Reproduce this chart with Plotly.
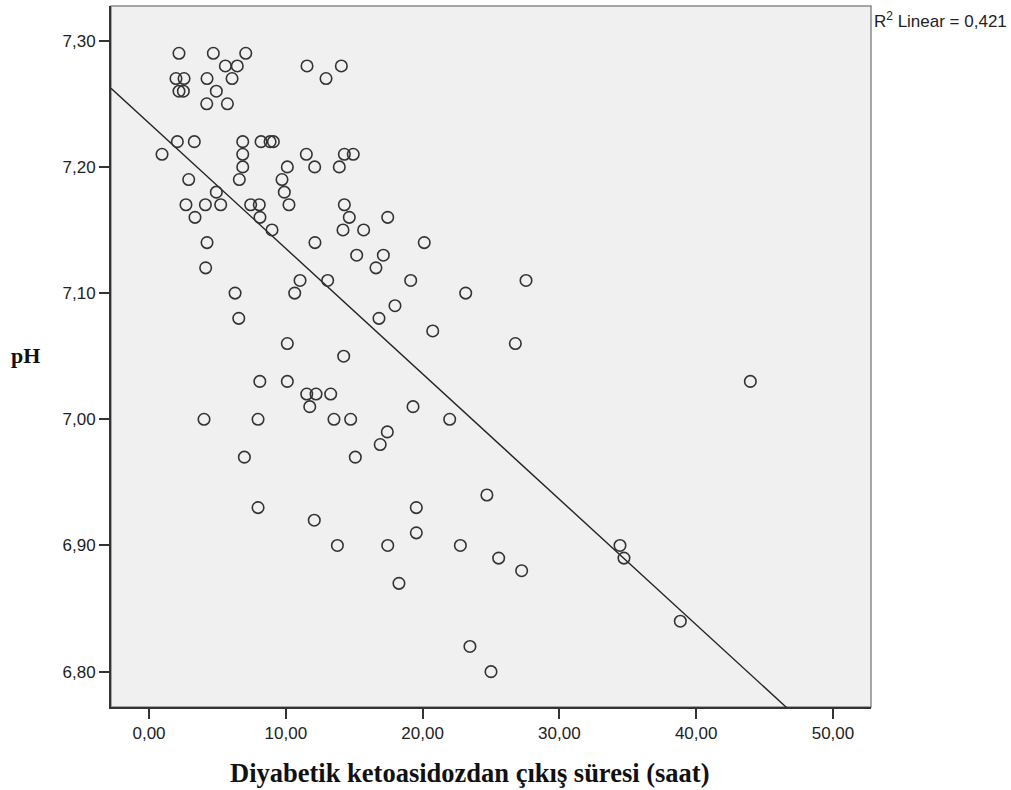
import plotly.graph_objects as go

# Recovery time (hours) and pH
hours = [2.19, 4.70, 7.07, 5.58, 6.45, 11.55, 14.06, 1.97, 2.56, 4.24,
         6.07, 12.94, 2.19, 2.51, 4.92, 4.22, 5.73, 2.07, 3.31, 6.85,
         8.19, 8.85, 9.09, 0.95, 6.85, 11.50, 14.28, 14.93, 6.85, 10.11,
         12.11, 13.91, 2.90, 6.60, 9.72, 4.92, 9.89, 2.70, 4.12, 5.24,
         7.43, 8.06, 10.23, 14.28, 3.36, 8.11, 14.64, 17.45, 8.99, 14.18,
         15.69, 4.24, 12.13, 20.12, 15.18, 17.13, 4.14, 16.59, 11.04, 13.06,
         19.13, 27.56, 6.29, 10.65, 23.15, 17.98, 6.56, 16.81, 20.74, 10.11,
         26.78, 14.23, 8.10, 10.11, 43.96, 11.53, 12.21, 13.28, 11.75, 19.30,
         4.02, 7.97, 13.52, 14.74, 21.98, 17.42, 16.90, 6.97, 15.08, 24.70,
         7.97, 19.54, 12.08, 19.54, 13.77, 17.45, 22.76, 34.43, 25.56, 34.72,
         27.24, 18.27, 38.84, 23.46, 25.00]
ph = [7.29, 7.29, 7.29, 7.28, 7.28, 7.28, 7.28, 7.27, 7.27, 7.27,
      7.27, 7.27, 7.26, 7.26, 7.26, 7.25, 7.25, 7.22, 7.22, 7.22,
      7.22, 7.22, 7.22, 7.21, 7.21, 7.21, 7.21, 7.21, 7.20, 7.20,
      7.20, 7.20, 7.19, 7.19, 7.19, 7.18, 7.18, 7.17, 7.17, 7.17,
      7.17, 7.17, 7.17, 7.17, 7.16, 7.16, 7.16, 7.16, 7.15, 7.15,
      7.15, 7.14, 7.14, 7.14, 7.13, 7.13, 7.12, 7.12, 7.11, 7.11,
      7.11, 7.11, 7.10, 7.10, 7.10, 7.09, 7.08, 7.08, 7.07, 7.06,
      7.06, 7.05, 7.03, 7.03, 7.03, 7.02, 7.02, 7.02, 7.01, 7.01,
      7.00, 7.00, 7.00, 7.00, 7.00, 6.99, 6.98, 6.97, 6.97, 6.94,
      6.93, 6.93, 6.92, 6.91, 6.90, 6.90, 6.90, 6.90, 6.89, 6.89,
      6.88, 6.87, 6.84, 6.82, 6.80]

# Linear fit as drawn in the reference
fit_intercept = 7.2347
fit_slope = -0.009937
r2_label = "R<sup>2</sup> Linear = 0,421"
x_title = "Diyabetik ketoasidozdan çıkış süresi (saat)"
y_title = "pH"

x_ticks = [0, 10, 20, 30, 40, 50]
y_ticks = [6.80, 6.90, 7.00, 7.10, 7.20, 7.30]
x_range = [-2.78, 52.78]
y_range = [6.772, 7.3275]

fit_x = [x_range[0], x_range[1]]
fit_y = [fit_intercept + fit_slope * v for v in fit_x]

fig = go.Figure()
fig.add_trace(go.Scatter(
    x=fit_x, y=fit_y, mode="lines",
    line=dict(color="#222222", width=1.4),
    hoverinfo="skip", showlegend=False))
fig.add_trace(go.Scatter(
    x=hours, y=ph, mode="markers",
    marker=dict(symbol="circle-open", size=11.5, color="#333333",
                line=dict(width=1.6, color="#333333")),
    showlegend=False))

serif = "Liberation Serif, Times New Roman, serif"
sans = "Liberation Sans, Arial, sans-serif"

fig.update_layout(
    width=1011, height=790,
    margin=dict(l=111, r=140, t=6, b=83),
    paper_bgcolor="white",
    plot_bgcolor="#f0f0f0",
    separators=",.",
    font=dict(family=sans, size=17, color="#222"),
    shapes=[dict(type="rect", xref="paper", yref="paper", x0=0, y0=0, x1=1, y1=1,
                 line=dict(color="#8a8a8a", width=1.5), layer="below")],
    annotations=[
        dict(text="<b>" + y_title + "</b>", xref="paper", yref="paper", x=-0.112, y=0.502,
             xanchor="center", yanchor="middle", showarrow=False,
             font=dict(family=serif, size=22, color="#111")),
        dict(text="<b>" + x_title + "</b>", xref="paper", yref="paper",
             x=0.473, y=-0.094, xanchor="center", yanchor="middle", showarrow=False,
             font=dict(family=serif, size=26.5, color="#111")),
        dict(text=r2_label, xref="paper", yref="paper", x=1.001, y=0.999,
             xanchor="left", yanchor="top", showarrow=False,
             font=dict(family=sans, size=17, color="#222")),
    ],
)

axis_style = dict(tickformat=".2f", showgrid=False, zeroline=False, showline=True,
                  linecolor="#333333", linewidth=2, ticks="outside",
                  ticklen=10, tickwidth=1.5, tickcolor="#333333",
                  tickfont=dict(family=sans, size=17, color="#222"))
fig.update_xaxes(range=x_range, tickvals=x_ticks, **axis_style)
fig.update_yaxes(range=y_range, tickvals=y_ticks, **axis_style)

fig.write_html("out.html", config={"displayModeBar": False},
               post_script="document.body.style.margin='0px';")
